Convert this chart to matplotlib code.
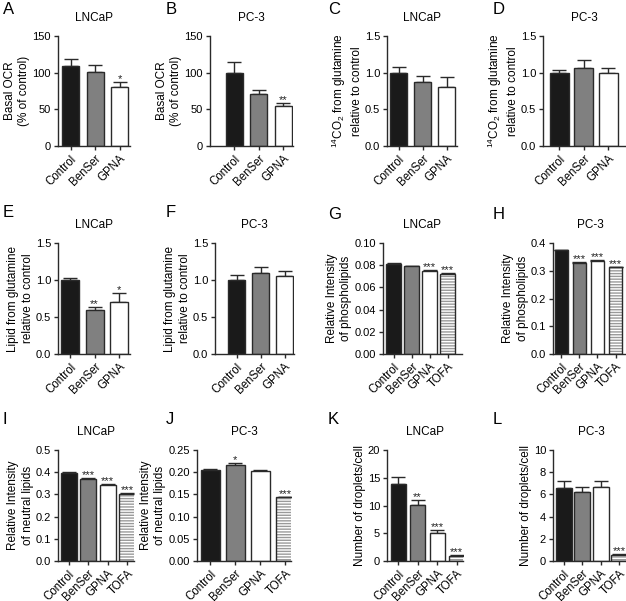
import matplotlib
matplotlib.use('Agg')
import matplotlib.pyplot as plt
import numpy as np

plt.rcParams['font.family'] = ['Liberation Sans', 'DejaVu Sans']
plt.rcParams['mathtext.fontset'] = 'custom'
plt.rcParams['mathtext.rm'] = 'Liberation Sans'
plt.rcParams['mathtext.default'] = 'regular'

# ---- data ----
groups3 = ['Control', 'BenSer', 'GPNA']
groups4 = ['Control', 'BenSer', 'GPNA', 'TOFA']

ocr_lncap = [109, 101, 80]
ocr_lncap_err = [9, 9, 7]
ocr_lncap_sig = ['', '', '*']

ocr_pc3 = [100, 71, 54]
ocr_pc3_err = [14, 6, 5]
ocr_pc3_sig = ['', '', '**']

co2_lncap = [1.0, 0.87, 0.81]
co2_lncap_err = [0.08, 0.08, 0.13]
co2_lncap_sig = ['', '', '']

co2_pc3 = [1.0, 1.07, 0.99]
co2_pc3_err = [0.04, 0.10, 0.08]
co2_pc3_sig = ['', '', '']

lipid_lncap = [1.0, 0.59, 0.70]
lipid_lncap_err = [0.03, 0.05, 0.13]
lipid_lncap_sig = ['', '**', '*']

lipid_pc3 = [1.0, 1.09, 1.05]
lipid_pc3_err = [0.07, 0.08, 0.07]
lipid_pc3_sig = ['', '', '']

phos_lncap = [0.081, 0.079, 0.075, 0.072]
phos_lncap_err = [0.001, 0.0005, 0.001, 0.0008]
phos_lncap_sig = ['', '', '***', '***']

phos_pc3 = [0.373, 0.327, 0.336, 0.312]
phos_pc3_err = [0.003, 0.003, 0.002, 0.002]
phos_pc3_sig = ['', '***', '***', '***']

neut_lncap = [0.398, 0.370, 0.344, 0.302]
neut_lncap_err = [0.003, 0.004, 0.004, 0.003]
neut_lncap_sig = ['', '***', '***', '***']

neut_pc3 = [0.205, 0.217, 0.202, 0.144]
neut_pc3_err = [0.002, 0.003, 0.002, 0.001]
neut_pc3_sig = ['', '*', '', '***']

drop_lncap = [13.9, 10.1, 5.0, 0.9]
drop_lncap_err = [1.3, 0.9, 0.6, 0.15]
drop_lncap_sig = ['', '**', '***', '***']

drop_pc3 = [6.6, 6.2, 6.7, 0.55]
drop_pc3_err = [0.6, 0.5, 0.5, 0.1]
drop_pc3_sig = ['', '', '', '***']

ylab_ocr = 'Basal OCR\n(% of control)'
ylab_co2 = '$^{14}$CO$_2$ from glutamine\nrelative to control'
ylab_lipid = 'Lipid from glutamine\nrelative to control'
ylab_phos = 'Relative Intensity\nof phospholipids'
ylab_neut = 'Relative Intensity\nof neutral lipids'
ylab_drop = 'Number of droplets/cell'

W, H = 626, 601
fig = plt.figure(figsize=(W / 100, H / 100), dpi=100)

bar_colors = {'Control': '#1a1a1a', 'BenSer': '#808080', 'GPNA': 'white', 'TOFA': 'white'}
edge = '#2a2a2a'


def draw_panel(letter, title, groups, vals, errs, sigs, ylabel, yticks, ytick_fmt,
               left, c0, s, w, right, top, bottom, letter_xy):
    ax = fig.add_axes([left / W, 1 - bottom / H, (right - left) / W, (bottom - top) / H])
    x = np.arange(len(groups))
    bw = w / s
    for xi, g, v in zip(x, groups, vals):
        if g == 'TOFA':
            ax.bar(xi, v, bw, color='white', edgecolor='#9a9a9a', hatch='------', linewidth=0, zorder=2)
            ax.bar(xi, v, bw, color='none', edgecolor=edge, linewidth=1.0, zorder=3)
        else:
            ax.bar(xi, v, bw, color=bar_colors[g], edgecolor=edge, linewidth=1.0, zorder=2)
    ax.errorbar(x, vals, yerr=[[0] * len(vals), errs], fmt='none', ecolor=edge,
                elinewidth=1.0, capsize=5, capthick=1.0, zorder=1)
    for xi, v, e, st in zip(x, vals, errs, sigs):
        if st:
            ax.annotate(st, (xi, v + e), xytext=(0, -1.5), textcoords='offset points',
                        ha='center', va='bottom', fontsize=8, color='#222222')
    ax.set_xlim(-(c0 - left) / s, (right - c0) / s)
    ax.set_ylim(yticks[0], yticks[-1])
    ax.set_yticks(yticks)
    ax.set_yticklabels([ytick_fmt.format(t) for t in yticks], fontsize=8)
    ax.set_xticks(x)
    ax.set_xticklabels(groups, rotation=45, ha='right', rotation_mode='anchor', fontsize=8.3)
    for side in ['top', 'right']:
        ax.spines[side].set_visible(False)
    for side in ['left', 'bottom']:
        ax.spines[side].set_linewidth(1.0)
        ax.spines[side].set_color(edge)
    ax.tick_params(axis='both', direction='out', length=3, width=1.0, color=edge, pad=2)
    ax.set_ylabel(ylabel, fontsize=8.5, labelpad=1.5, linespacing=1.3)
    ax.set_title(title, fontsize=8.5, pad=11)
    fig.text(letter_xy[0] / W, 1 - letter_xy[1] / H, letter, fontsize=12, ha='left', va='top')
    return ax


r1 = (36, 146)
r2 = (243, 354)
r3 = (450, 561)
t3 = [0, 50, 100, 150]
t15 = [0.0, 0.5, 1.0, 1.5]

draw_panel('A', 'LNCaP', groups3, ocr_lncap, ocr_lncap_err, ocr_lncap_sig, ylab_ocr, t3, '{:.0f}',
           58, 70.5, 24.5, 17, 130, *r1, (3, 2))
draw_panel('B', 'PC-3', groups3, ocr_pc3, ocr_pc3_err, ocr_pc3_sig, ylab_ocr, t3, '{:.0f}',
           210, 234, 24.5, 17, 293, *r1, (166, 2))
draw_panel('C', 'LNCaP', groups3, co2_lncap, co2_lncap_err, co2_lncap_sig, ylab_co2, t15, '{:.1f}',
           387, 398.5, 24, 17, 457, *r1, (328, 2))
draw_panel('D', 'PC-3', groups3, co2_pc3, co2_pc3_err, co2_pc3_sig, ylab_co2, t15, '{:.1f}',
           543, 559, 24.5, 19, 625, *r1, (493, 2))

draw_panel('E', 'LNCaP', groups3, lipid_lncap, lipid_lncap_err, lipid_lncap_sig, ylab_lipid, t15, '{:.1f}',
           58, 70, 24.5, 18, 130, *r2, (3, 205))
draw_panel('F', 'PC-3', groups3, lipid_pc3, lipid_pc3_err, lipid_pc3_sig, ylab_lipid, t15, '{:.1f}',
           215, 236.5, 24, 17, 294, *r2, (166, 205))
draw_panel('G', 'LNCaP', groups4, phos_lncap, phos_lncap_err, phos_lncap_sig, ylab_phos,
           [0.0, 0.02, 0.04, 0.06, 0.08, 0.10], '{:.2f}',
           383, 393.5, 18, 15, 462, *r2, (328, 207))
draw_panel('H', 'PC-3', groups4, phos_pc3, phos_pc3_err, phos_pc3_sig, ylab_phos,
           [0.0, 0.1, 0.2, 0.3, 0.4], '{:.1f}',
           553, 561, 18.2, 13, 628, *r2, (493, 207))

draw_panel('I', 'LNCaP', groups4, neut_lncap, neut_lncap_err, neut_lncap_sig, ylab_neut,
           [0.0, 0.1, 0.2, 0.3, 0.4, 0.5], '{:.1f}',
           58, 68.5, 19.5, 16, 134, *r3, (3, 412))
draw_panel('J', 'PC-3', groups4, neut_pc3, neut_pc3_err, neut_pc3_sig, ylab_neut,
           [0.0, 0.05, 0.10, 0.15, 0.20, 0.25], '{:.2f}',
           197, 210, 25, 19, 291, *r3, (166, 412))
draw_panel('K', 'LNCaP', groups4, drop_lncap, drop_lncap_err, drop_lncap_sig, ylab_drop,
           [0, 5, 10, 15, 20], '{:.0f}',
           387, 398, 19.5, 15, 463, *r3, (328, 412))
draw_panel('L', 'PC-3', groups4, drop_pc3, drop_pc3_err, drop_pc3_sig, ylab_drop,
           [0, 2, 4, 6, 8, 10], '{:.0f}',
           553, 563.5, 18.5, 16, 630, *r3, (493, 412))

fig.savefig('out.png', dpi=100)
